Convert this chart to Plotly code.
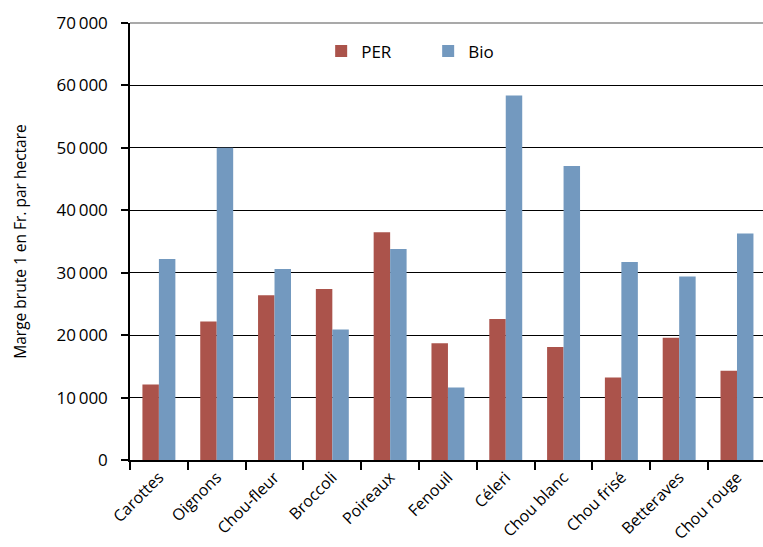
import plotly.graph_objects as go

# Gross margin per hectare, conventional (PER) vs organic (Bio)
legumes = ["Carottes", "Oignons", "Chou-fleur", "Broccoli", "Poireaux", "Fenouil",
           "Céleri", "Chou blanc", "Chou frisé", "Betteraves", "Chou rouge"]
per = [12100, 22200, 26400, 27400, 36500, 18700, 22600, 18100, 13200, 19600, 14300]
bio = [32200, 50000, 30600, 20900, 33800, 11600, 58400, 47100, 31700, 29400, 36300]

y_ticks = [0, 10000, 20000, 30000, 40000, 50000, 60000, 70000]

FONT = "Open Sans"

fig = go.Figure()
fig.add_trace(go.Bar(name="PER", x=legumes, y=per,
                     marker=dict(color="#ab534b", line=dict(width=0))))
fig.add_trace(go.Bar(name="Bio", x=legumes, y=bio,
                     marker=dict(color="#7399bf", line=dict(width=0))))

fig.update_layout(
    width=763, height=547,
    margin=dict(l=130, r=0, t=23, b=87),
    paper_bgcolor="white", plot_bgcolor="white",
    barmode="group", bargap=0.43, bargroupgap=0,
    separators=".\u2009",
    font=dict(family=FONT, size=15, color="black", weight=500),
    legend=dict(orientation="h", x=0.302, y=0.935, xanchor="left", yanchor="middle",
                font=dict(size=17, weight=500), entrywidth=62, entrywidthmode="pixels",
                bgcolor="rgba(0,0,0,0)", traceorder="normal"),
    showlegend=True,
)

fig.update_xaxes(
    type="category", range=[-0.5, 10.45],
    tickson="boundaries", ticks="outside", ticklen=8, tickwidth=1.5, tickcolor="black",
    showline=True, linecolor="black", linewidth=1.5,
    tickangle=-45, tickfont=dict(size=16, weight=500),
    showgrid=False, zeroline=False,
)

fig.update_yaxes(
    range=[0, 70000], tickvals=y_ticks, tickformat=",d",
    ticks="outside", ticklen=7, tickwidth=1.5, tickcolor="black",
    ticklabelstandoff=10,
    showline=True, linecolor="black", linewidth=1.5,
    showgrid=True, gridcolor="black", gridwidth=1.2,
    zeroline=False, tickfont=dict(size=17, weight=500),
    title=dict(text="Marge brute 1 en Fr. par hectare", font=dict(size=15.5, weight=500),
               standoff=26),
)

# light grey frame line along the top of the plotting area
fig.add_shape(type="line", xref="paper", yref="paper", x0=0, x1=1, y0=1, y1=1,
              line=dict(color="#8c8c8c", width=1.5))

fig.write_html("out.html")
